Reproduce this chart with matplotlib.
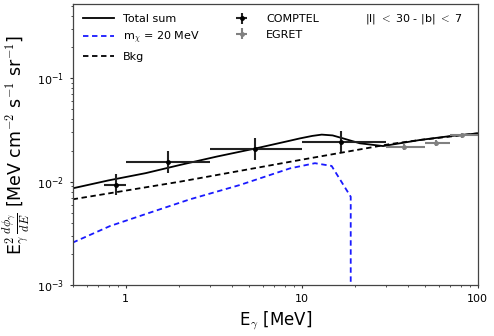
import numpy as np
import matplotlib
matplotlib.use('Agg')
import matplotlib.pyplot as plt

plt.rcParams['mathtext.fontset'] = 'cm'
plt.rcParams['font.family'] = ['DejaVu Sans']

# total sum curve
e_tot = [0.5, 0.8, 1.3, 2.03, 3.3, 5.5, 8.58, 9.77, 11.5, 13.0, 15.0, 17.2, 21.4, 29.0, 47.0, 70.0, 100.0]
f_tot = [0.00863, 0.0103, 0.0121, 0.0145, 0.0175, 0.0210, 0.0249, 0.0262, 0.0277, 0.0285, 0.0280, 0.0262, 0.0235, 0.0221, 0.0253, 0.0276, 0.0293]

# dark matter signal, m_chi = 20 MeV
e_dm = [0.5, 0.815, 1.37, 2.32, 4.46, 8.58, 11.9, 14.8, 19.0, 19.0]
f_dm = [0.00258, 0.00373, 0.00502, 0.00676, 0.0093, 0.01345, 0.0151, 0.0142, 0.00716, 1e-4]

# background
e_bkg = [0.5, 2.03, 9.77, 31.8, 47.0, 100.0]
f_bkg = [0.00676, 0.0100, 0.0162, 0.0231, 0.0253, 0.0293]

# COMPTEL data
e_comptel = [0.88, 1.75, 5.43, 16.7]
e_comptel_lo = [0.75, 1.0, 3.0, 10.0]
e_comptel_hi = [1.0, 3.0, 10.0, 30.0]
f_comptel = [0.0094, 0.0155, 0.0207, 0.024]
f_comptel_lo = [0.00744, 0.0122, 0.0162, 0.0192]
f_comptel_hi = [0.01186, 0.0198, 0.0266, 0.031]

# EGRET data
e_egret = [38.3, 57.7, 81.0]
e_egret_lo = [30.0, 50.0, 70.0]
e_egret_hi = [50.0, 70.0, 100.0]
f_egret = [0.0218, 0.0235, 0.028]
f_egret_lo = [0.0204, 0.0221, 0.0262]
f_egret_hi = [0.0233, 0.0251, 0.0298]


def errs(c, lo, hi):
    c = np.array(c)
    return [c - np.array(lo), np.array(hi) - c]


fig = plt.figure(figsize=(4.94, 3.36), dpi=100)
ax = fig.add_axes([0.147, 0.151, 0.82, 0.837])

ax.plot(e_tot, f_tot, color='black', lw=1.3, label='Total sum')
ax.plot(e_dm, f_dm, color='#1a1aff', lw=1.3, ls=(0, (3, 2)), label=r'm$_\chi$ = 20 MeV')
ax.plot(e_bkg, f_bkg, color='black', lw=1.3, ls=(0, (3, 2)), label='Bkg')

ax.errorbar(e_comptel, f_comptel,
            xerr=errs(e_comptel, e_comptel_lo, e_comptel_hi),
            yerr=errs(f_comptel, f_comptel_lo, f_comptel_hi),
            fmt='o', ms=2.5, color='black', ecolor='#222222', elinewidth=1.5,
            capsize=0, label='COMPTEL')
ax.errorbar(e_egret, f_egret,
            xerr=errs(e_egret, e_egret_lo, e_egret_hi),
            yerr=errs(f_egret, f_egret_lo, f_egret_hi),
            fmt='o', ms=2.5, color='grey', ecolor='grey', elinewidth=1.5,
            capsize=0, label='EGRET')

ax.set_xscale('log')
ax.set_yscale('log')
ax.set_xlim(0.5, 100)
ax.set_ylim(1e-3, 0.52)
ax.set_xticks([1, 10, 100])
ax.set_xticklabels(['1', '10', '100'])

ax.tick_params(which='major', length=2.5, width=0.8, labelsize=8, colors='#333333', labelcolor='black')
ax.tick_params(which='minor', length=1.5, width=0.6, colors='#333333')
for sp in ax.spines.values():
    sp.set_color('#444444')
    sp.set_linewidth(0.9)

ax.set_xlabel(r'E$_\gamma$ [MeV]', fontsize=12)
ax.set_ylabel(r'E$_\gamma^2\,\frac{d\phi_\gamma}{dE}$ [MeV cm$^{-2}$ s$^{-1}$ sr$^{-1}$]', fontsize=12.5)

ax.legend(loc='upper left', ncol=2, frameon=False, fontsize=8,
          handlelength=2.8, columnspacing=2.4, borderaxespad=0.5)
ax.text(0.964, 0.945, r'|l| $<$ 30 - |b| $<$ 7', transform=ax.transAxes,
        ha='right', va='center', fontsize=8)

fig.savefig('out.png', dpi=100)
plt.close(fig)
